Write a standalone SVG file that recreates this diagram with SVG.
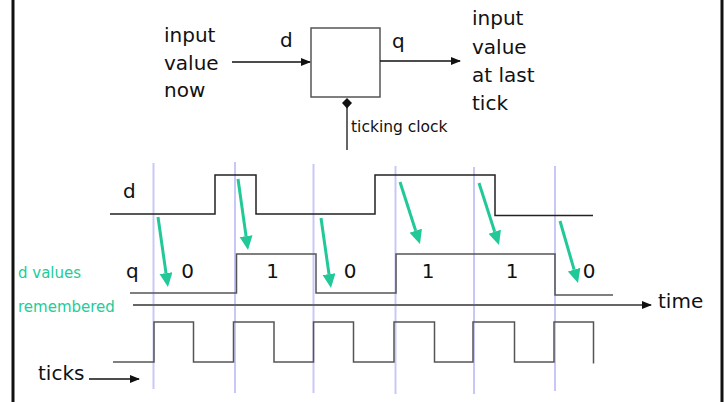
<svg xmlns="http://www.w3.org/2000/svg" width="724" height="402" viewBox="0 0 724 402">
<style>
  .t { font-family: "DejaVu Sans", "Liberation Sans", sans-serif; font-size: 20px; fill: #111; }
  .small { font-size: 15.5px; }
  .green { fill: #22cc99; font-size: 15px; }
  .mid { text-anchor: middle; }
  .wave { fill: none; stroke-width: 1.5; }
  .tick { stroke: #c8c8f6; stroke-width: 2; }
  .blk { stroke: #111; stroke-width: 1.5; fill: none; }
  .gr { stroke: #20c997; stroke-width: 3; fill: none; }
</style>
<defs>
  <marker id="ah" markerUnits="userSpaceOnUse" markerWidth="11" markerHeight="9" refX="9" refY="4" orient="auto">
    <path d="M0,0 L10,4 L0,8 z" fill="#111"/>
  </marker>
  <marker id="gh" markerUnits="userSpaceOnUse" markerWidth="15" markerHeight="14" refX="0" refY="6.5" orient="auto">
    <path d="M0,0 L14,6.5 L0,13 z" fill="#20c997"/>
  </marker>
</defs>
<rect width="724" height="402" fill="#fff"/>
<g id="frame" stroke="#111" stroke-width="3">
  <line x1="13" y1="0" x2="13" y2="402"/>
  <line x1="722" y1="0" x2="722" y2="402"/>
</g>

<g id="flipflop">
  <rect x="311" y="28" width="69" height="69" fill="#fff" stroke="#555" stroke-width="1.5"/>
  <text class="t" x="280" y="47">d</text>
  <text class="t" x="392" y="48">q</text>
</g>
<g id="input-label">
  <text class="t" x="164" y="42">input</text>
  <text class="t" x="164" y="69.5">value</text>
  <text class="t" x="164" y="97">now</text>
</g>
<g id="output-label">
  <text class="t" x="472" y="25">input</text>
  <text class="t" x="472" y="53.5">value</text>
  <text class="t" x="472" y="81.5">at last</text>
  <text class="t" x="472" y="110">tick</text>
</g>
<g id="clock">
  <line x1="347" y1="103" x2="347" y2="150" stroke="#666" stroke-width="2"/>
  <path d="M347,98 L352,103 L347,108.5 L342,103 z" fill="#111"/>
  <text class="t small" x="351" y="132">ticking clock</text>
</g>

<g id="tick-lines">
  <line class="tick" x1="153.5" y1="163" x2="153.5" y2="389"/>
  <line class="tick" x1="235" y1="162" x2="235" y2="393"/>
  <line class="tick" x1="313.5" y1="164" x2="313.5" y2="393"/>
  <line class="tick" x1="395.5" y1="166" x2="395.5" y2="394"/>
  <line class="tick" x1="474" y1="167" x2="474" y2="394"/>
  <line class="tick" x1="555" y1="166" x2="555" y2="391"/>
</g>

<g id="d-wave">
  <path class="wave" stroke="#222" d="M110,214 H215 V175 H256 V214 H375 V175 H495 V215.5 H593"/>
  <text class="t" x="123" y="198">d</text>
</g>
<g id="q-wave">
  <path class="wave" stroke="#555" d="M130,293 H236.5 V254 H316 V293 H396 V254 H555 V295 H613"/>
  <text class="t" x="126" y="278">q</text>
  <text class="t mid" x="187.5" y="278">0</text>
  <text class="t mid" x="272.5" y="278">1</text>
  <text class="t mid" x="350" y="278">0</text>
  <text class="t mid" x="428" y="278">1</text>
  <text class="t mid" x="512" y="278">1</text>
  <text class="t mid" x="589" y="278">0</text>
</g>
<g id="ticks-wave">
  <path class="wave" stroke="#555" d="M113,362 H154 V322 H193.5 V362 H233.5 V322 H274 V362 H313.5 V322 H353.5 V362 H394 V322 H434.5 V362 H473 V322 H514.5 V362 H554 V322 H593.5 V363.5"/>
  <text class="t" x="38" y="380">ticks</text>
</g>
<g id="legend">
  <text class="t green" x="18" y="278">d values</text>
  <text class="t green" x="18" y="311.5">remembered</text>
</g>
<g id="time-label">
  <text class="t" x="658" y="308">time</text>
</g>

<g id="connectors">
  <line class="blk" x1="232" y1="62" x2="310" y2="62" marker-end="url(#ah)"/>
  <line class="blk" x1="380" y1="61" x2="460" y2="61" marker-end="url(#ah)"/>
  <line x1="133" y1="305" x2="651" y2="305" stroke="#666" stroke-width="2" marker-end="url(#ah)"/>
  <line class="blk" x1="89" y1="379" x2="139" y2="379" marker-end="url(#ah)"/>
  <line class="gr" x1="158" y1="217" x2="166" y2="273.1" marker-end="url(#gh)"/>
  <line class="gr" x1="238" y1="179" x2="246.05" y2="236.1" marker-end="url(#gh)"/>
  <line class="gr" x1="321" y1="218" x2="329" y2="274.1" marker-end="url(#gh)"/>
  <line class="gr" x1="400" y1="182" x2="415.7" y2="230.7" marker-end="url(#gh)"/>
  <line class="gr" x1="479" y1="183" x2="494.7" y2="231.7" marker-end="url(#gh)"/>
  <line class="gr" x1="560" y1="221" x2="574.1" y2="269.6" marker-end="url(#gh)"/>
</g>
</svg>
